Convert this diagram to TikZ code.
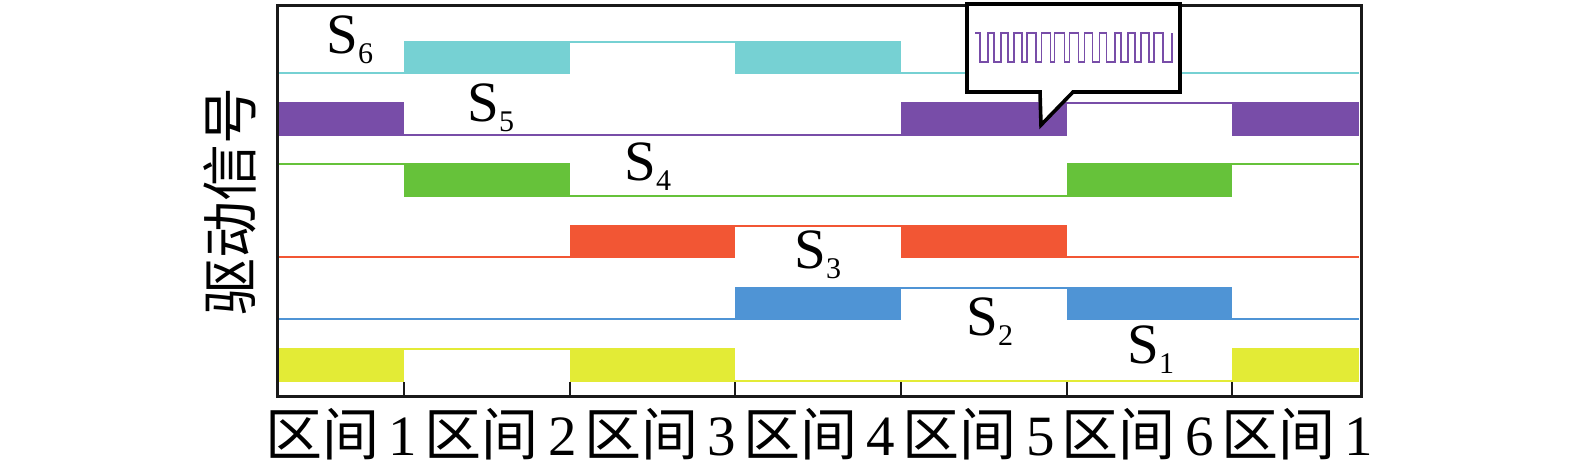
\documentclass[tikz,border=0pt]{standalone}
\usepackage{fontspec}
\setmainfont{Liberation Serif}
\newfontfamily\cjk{Noto Sans CJK SC}
\definecolor{csix}{HTML}{76D1D3}
\definecolor{cfive}{HTML}{784DA8}
\definecolor{cfour}{HTML}{66C23A}
\definecolor{cthree}{HTML}{F25634}
\definecolor{ctwo}{HTML}{4F94D5}
\definecolor{cone}{HTML}{E3EB36}
\def\Tz{279}\def\Ta{404}\def\Tb{570}\def\Tc{735}\def\Td{901}\def\Te{1067}\def\Tf{1232}\def\Tg{1359}
\begin{document}
\begin{tikzpicture}[x=0.5pt,y=-0.5pt,
  sigline/.style={line width=1pt},
  sigfill/.style={draw=none},
  frameline/.style={line width=1.5pt,black!90},
  tickline/.style={line width=1.2pt,black!90},
  bigtext/.style={font=\fontsize{28.5}{30}\selectfont,inner sep=0pt},
  slabel/.style={bigtext,anchor=base west},
  callout/.style={fill=white,draw=black,line width=1.8pt,line join=miter},
  pwm/.style={cfive,line width=0.8pt}]
\useasboundingbox (0,0) rectangle (1575,473);
% S6
\fill[csix] (\Ta,41) rectangle (\Tb,74);
\fill[csix] (\Tc,41) rectangle (\Td,74);
\draw[sigline,csix] (\Tz,73) -- (\Ta,73) (\Tb,42) -- (\Tc,42) (\Td,73) -- (\Tg,73);
% S5
\fill[cfive] (\Tz,102) rectangle (\Ta,136);
\fill[cfive] (\Td,102) rectangle (\Te,136);
\fill[cfive] (\Tf,102) rectangle (\Tg,136);
\draw[sigline,cfive] (\Ta,135) -- (\Td,135) (\Te,103) -- (\Tf,103);
% S4
\fill[cfour] (\Ta,163) rectangle (\Tb,197);
\fill[cfour] (\Te,163) rectangle (\Tf,197);
\draw[sigline,cfour] (\Tz,164) -- (\Ta,164) (\Tb,196) -- (\Te,196) (\Tf,164) -- (\Tg,164);
% S3
\fill[cthree] (\Tb,225) rectangle (\Tc,258);
\fill[cthree] (\Td,225) rectangle (\Te,258);
\draw[sigline,cthree] (\Tz,257) -- (\Tb,257) (\Tc,226) -- (\Td,226) (\Te,257) -- (\Tg,257);
% S2
\fill[ctwo] (\Tc,287) rectangle (\Td,320);
\fill[ctwo] (\Te,287) rectangle (\Tf,320);
\draw[sigline,ctwo] (\Tz,319) -- (\Tc,319) (\Td,288) -- (\Te,288) (\Tf,319) -- (\Tg,319);
% S1
\fill[cone] (\Tz,348) rectangle (\Ta,382);
\fill[cone] (\Tb,348) rectangle (\Tc,382);
\fill[cone] (\Tf,348) rectangle (\Tg,382);
\draw[sigline,cone] (\Ta,349) -- (\Tb,349) (\Tc,381) -- (\Tf,381);
% frame and ticks
\draw[frameline] (277.5,5) rectangle (1361,396);
\foreach \t in {\Ta,\Tb,\Tc,\Td,\Te,\Tf}
  \draw[tickline] (\t,396) -- (\t,382);
% callout
\draw[callout] (967,4) -- (1180,4) -- (1180,92) -- (1073,92) -- (1041,125) -- (1040,92) -- (967,92) -- cycle;
\draw[pwm] (975,33) -- (980,33) -- (980,62)
  \foreach \d in {6,7,8,9,9,10,9,8,7,6,7,8,9} { -- ++({14.07-\d},0) -- ++(0,-29) -- ++(\d,0) -- ++(0,29) }
  -- (1172,62) -- (1172,33);
% signal labels
\node[slabel] (l6) at (326,53) {S\raisebox{-5pt}{\fontsize{15}{15}\selectfont 6}};
\node[slabel] (l5) at (467,121) {S\raisebox{-5pt}{\fontsize{15}{15}\selectfont 5}};
\node[slabel] (l4) at (624,180) {S\raisebox{-5pt}{\fontsize{15}{15}\selectfont 4}};
\node[slabel] (l3) at (794,268) {S\raisebox{-5pt}{\fontsize{15}{15}\selectfont 3}};
\node[slabel] (l2) at (966,335) {S\raisebox{-5pt}{\fontsize{15}{15}\selectfont 2}};
\node[slabel] (l1) at (1127,363) {S\raisebox{-5pt}{\fontsize{15}{15}\selectfont 1}};
% axis label
\node[bigtext,rotate=90] (ylab) at (230,201) {\cjk 驱动信号};
% interval labels
\foreach \n [count=\k from 0] in {1,2,3,4,5,6,1}
  \node[bigtext,anchor=base west] (iv\k) at ({265+\k*159.3},455) {{\cjk 区间}\,\n};
\end{tikzpicture}
\end{document}
